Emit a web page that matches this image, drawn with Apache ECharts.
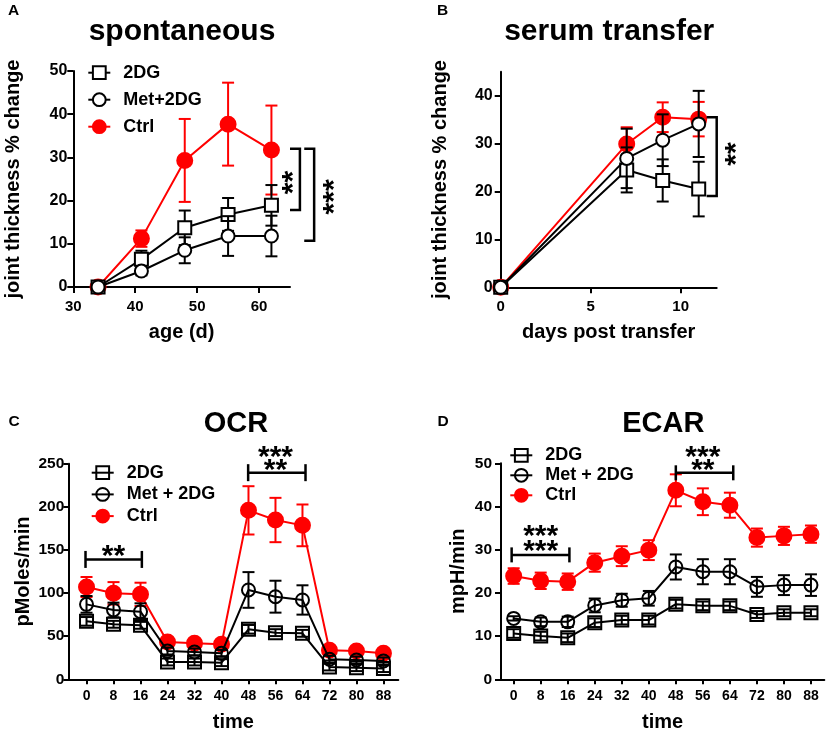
<!DOCTYPE html>
<html><head><meta charset="utf-8">
<script src="https://cdn.jsdelivr.net/npm/echarts@6/dist/echarts.min.js"></script>
<style>
html,body{margin:0;padding:0;background:#fff;width:829px;height:732px;overflow:hidden}
.p{position:absolute}
</style>
</head><body>
<div id="pA" class="p" style="left:0;top:0;width:415px;height:366px"></div>
<div id="pB" class="p" style="left:415px;top:0;width:414px;height:366px"></div>
<div id="pC" class="p" style="left:0;top:366px;width:415px;height:366px"></div>
<div id="pD" class="p" style="left:415px;top:366px;width:414px;height:366px"></div>
<script>
// ---------- Panel A: spontaneous ----------
const A_age = [34, 41, 48, 55, 62];
const A_2DG = [0, 6.4, 13.7, 16.8, 18.9];
const A_2DG_err = [0, 2.0, 4.0, 3.8, 4.7];
const A_Met = [0, 3.7, 8.5, 11.8, 11.8];
const A_Met_err = [0, 1.0, 3.0, 4.6, 4.7];
const A_Ctrl = [0, 11.2, 29.3, 37.7, 31.7];
const A_Ctrl_err = [0, 1.9, 9.6, 9.6, 10.3];
const A_xTicks = [30, 40, 50, 60];
const A_yTicks = [0, 10, 20, 30, 40, 50];
const A_brackets = [{x: 66.6, xt: 65.0, y1: 32.0, y2: 17.8}, {x: 68.9, xt: 67.3, y1: 32.0, y2: 10.7}];
const A_stars = [{x: 64.5, y: 24.2, text: '**'}, {x: 71.1, y: 20.85, text: '***'}];

// ---------- Panel B: serum transfer ----------
const B_days = [0, 7, 9, 11];
const B_2DG = [0, 24.5, 22.3, 20.5];
const B_2DG_err = [0, 4.7, 4.4, 5.7];
const B_Met = [0, 26.9, 30.7, 34.1];
const B_Met_err = [0, 6.2, 5.4, 6.9];
const B_Ctrl = [0, 29.9, 35.5, 35.1];
const B_Ctrl_err = [0, 3.5, 3.1, 3.6];
const B_xTicks = [0, 5, 10];
const B_yTicks = [0, 10, 20, 30, 40];
const B_brackets = [{x: 12.0, xt: 11.44, y1: 35.5, y2: 19.06}];
const B_stars = [{x: 12.74, y: 27.8, text: '**'}];

// ---------- Panel C: OCR ----------
const CD_time = [0, 8, 16, 24, 32, 40, 48, 56, 64, 72, 80, 88];
const C_2DG = [67.2, 63.8, 62.6, 20.1, 20.1, 19.3, 58.0, 54.1, 53.3, 14.3, 13.5, 12.4];
const C_2DG_err = [5, 4, 4, 4, 4, 4, 5, 4, 4, 4, 4, 4];
const C_Met = [86.9, 80.4, 78.4, 32.8, 31.7, 30.1, 103.6, 95.8, 92.0, 23.2, 22.4, 21.3];
const C_Met_err = [9.7, 8.5, 9.7, 4, 4, 4, 20.7, 18.5, 17.0, 4, 4, 4];
const C_Ctrl = [107, 99.7, 98.5, 43.3, 41.7, 40.6, 195.9, 184.7, 178.5, 33.6, 32.8, 30.1];
const C_Ctrl_err = [11.6, 13, 13.5, 3, 3, 3, 28, 25.7, 24.2, 3, 3, 3];
const C_yTicks = [0, 50, 100, 150, 200, 250];
const C_brackets = [{x1: -0.3, x2: 16.4, y: 139}, {x1: 47.9, x2: 64.9, y: 239.6}];
const C_stars = [{x: 8, y: 150.7, text: '**'}, {x: 56, y: 264.7, text: '***'}, {x: 56, y: 250.4, text: '**'}];

// ---------- Panel D: ECAR ----------
const D_2DG = [10.6, 10.0, 9.6, 13.1, 13.7, 13.7, 17.4, 17.0, 17.0, 15.0, 15.4, 15.4];
const D_2DG_err = [1, 1, 1, 1, 1, 1, 1, 1, 1, 0.8, 0.8, 0.8];
const D_Met = [14.1, 13.3, 13.3, 17.1, 18.3, 18.75, 26.0, 24.9, 24.9, 21.4, 21.8, 21.8];
const D_Met_err = [0.5, 1, 1.2, 1.6, 1.5, 1.7, 2.9, 2.9, 2.9, 2.3, 2.3, 2.5];
const D_Ctrl = [23.9, 22.8, 22.6, 27.0, 28.5, 29.9, 43.75, 41.1, 40.3, 32.8, 33.2, 33.6];
const D_Ctrl_err = [1.8, 1.9, 1.9, 2.1, 2.3, 2.3, 3.7, 3.1, 2.9, 2.1, 2.1, 2.0];
const D_yTicks = [0, 10, 20, 30, 40, 50];
const D_brackets = [{x1: -0.6, x2: 16.5, y: 28.8}, {x1: 48, x2: 65, y: 47.8}];
const D_stars = [{x: 8, y: 34.6, text: '***'}, {x: 8, y: 31.1, text: '***'}, {x: 56, y: 52.9, text: '***'}, {x: 56, y: 49.9, text: '**'}];

// ---------- rendering helpers ----------
const FONT = '"Liberation Sans", Arial, Helvetica, sans-serif';
const RED = '#ff0000';
const BLACK = '#000000';
const STAR_FS = 30;

function lineSeries(name, xs, ys, symbol, fill, color, size, z) {
  return {
    type: 'line', name: name, data: xs.map((x, i) => [x, ys[i]]),
    symbol: symbol, symbolSize: size, showSymbol: true, showAllSymbol: true,
    itemStyle: {color: fill, borderColor: color, borderWidth: 2},
    lineStyle: {color: color, width: 2},
    emphasis: {disabled: true}, animation: false, z: z, clip: false, silent: true
  };
}

function errSeries(xs, ys, es, color, z) {
  return {
    type: 'custom', data: xs.map((x, i) => [x, ys[i], es[i]]),
    encode: {x: 0, y: 1}, animation: false, silent: true, z: z, clip: false,
    renderItem: function (p, api) {
      const x = api.value(0), y = api.value(1), e = api.value(2);
      if (!e) return null;
      const t = api.coord([x, y + e]), b = api.coord([x, y - e]);
      const hw = 6;
      const st = {stroke: color, lineWidth: 2};
      return {type: 'group', children: [
        {type: 'line', shape: {x1: t[0], y1: t[1], x2: b[0], y2: b[1]}, style: st},
        {type: 'line', shape: {x1: t[0] - hw, y1: t[1], x2: t[0] + hw, y2: t[1]}, style: st},
        {type: 'line', shape: {x1: b[0] - hw, y1: b[1], x2: b[0] + hw, y2: b[1]}, style: st}
      ]};
    }
  };
}

function vBracketSeries(list) {
  return {
    type: 'custom', data: list.map(b => [b.x, b.y1]), encode: {x: 0, y: 1},
    animation: false, silent: true, z: 10, clip: false,
    renderItem: function (p, api) {
      const b = list[p.dataIndex];
      const p1 = api.coord([b.x, b.y1]), p2 = api.coord([b.x, b.y2]), t = api.coord([b.xt, b.y1]);
      return {type: 'polyline', shape: {points: [[t[0], p1[1]], [p1[0], p1[1]], [p2[0], p2[1]], [t[0], p2[1]]]},
        style: {stroke: BLACK, lineWidth: 2.5, fill: null}};
    }
  };
}

function hBracketSeries(list, half) {
  return {
    type: 'custom', data: list.map(b => [b.x1, b.y]), encode: {x: 0, y: 1},
    animation: false, silent: true, z: 10, clip: false,
    renderItem: function (p, api) {
      const b = list[p.dataIndex];
      const a = api.coord([b.x1, b.y]), c = api.coord([b.x2, b.y]);
      const st = {stroke: BLACK, lineWidth: 2.5};
      return {type: 'group', children: [
        {type: 'line', shape: {x1: a[0], y1: a[1], x2: c[0], y2: c[1]}, style: st},
        {type: 'line', shape: {x1: a[0], y1: a[1] - half, x2: a[0], y2: a[1] + half}, style: st},
        {type: 'line', shape: {x1: c[0], y1: c[1] - half, x2: c[0], y2: c[1] + half}, style: st}
      ]};
    }
  };
}

function starSeries(list, rotated) {
  return {
    type: 'custom', data: list.map(s => [s.x, s.y]), encode: {x: 0, y: 1},
    animation: false, silent: true, z: 11, clip: false,
    renderItem: function (p, api) {
      const s = list[p.dataIndex];
      const c = api.coord([s.x, s.y]);
      const off = 0.23 * STAR_FS;
      return {type: 'text', x: rotated ? c[0] + off : c[0], y: rotated ? c[1] : c[1] + off,
        rotation: rotated ? Math.PI / 2 : 0,
        style: {text: s.text, fontSize: STAR_FS, fontWeight: 'bold', fontFamily: FONT, fill: BLACK,
          align: 'center', verticalAlign: 'middle'}};
    }
  };
}

function axisBase(extra) {
  return Object.assign({
    type: 'value',
    axisLine: {show: true, onZero: false, lineStyle: {color: BLACK, width: 2}},
    splitLine: {show: false},
    nameLocation: 'middle',
    nameMoveOverlap: false,
    nameTextStyle: {color: BLACK, fontWeight: 'bold', fontSize: 20, fontFamily: FONT}
  }, extra);
}

function ticks(vals, len) {
  return {show: true, length: len, inside: false, lineStyle: {color: BLACK, width: 2}, customValues: vals};
}
function labels(vals, size, margin) {
  return {color: BLACK, fontWeight: 'bold', fontSize: size, fontFamily: FONT, margin: margin, customValues: vals};
}

function textG(x, y, text, size) {
  return {type: 'text', x: x, y: y, silent: true,
    style: {text: text, fontSize: size, fontWeight: 'bold', fontFamily: FONT, fill: BLACK, align: 'center', verticalAlign: 'middle'}};
}

function legendCfg(names, pos) {
  return {show: !!pos, data: names, orient: 'vertical', left: pos ? pos[0] : 0, top: pos ? pos[1] : 0,
    padding: 0, itemGap: pos ? pos[2] : 0,
    itemWidth: 22, itemHeight: 16, selectedMode: false,
    textStyle: {color: BLACK, fontWeight: 'bold', fontSize: 18, fontFamily: FONT, padding: [0, 0, 0, 8]}};
}

function build(id, cfg) {
  const chart = echarts.init(document.getElementById(id), null, {renderer: 'canvas'});
  const met = cfg.metName;
  const series = [
    errSeries(cfg.x, cfg.ctrl, cfg.ctrlErr, RED, 2),
    lineSeries('Ctrl', cfg.x, cfg.ctrl, 'circle', RED, RED, 15, 3),
    errSeries(cfg.x, cfg.dg, cfg.dgErr, BLACK, 4),
    lineSeries('2DG', cfg.x, cfg.dg, 'rect', cfg.openFill, BLACK, 13, 5),
    errSeries(cfg.x, cfg.met, cfg.metErr, BLACK, 6),
    lineSeries(met, cfg.x, cfg.met, 'circle', cfg.openFill, BLACK, 13, 7)
  ].concat(cfg.extra);
  chart.setOption({
    animation: false,
    backgroundColor: '#fff',
    grid: Object.assign({outerBoundsMode: 'none', containLabel: false}, cfg.grid),
    xAxis: axisBase(cfg.xAxis),
    yAxis: axisBase(cfg.yAxis),
    legend: legendCfg(['2DG', met, 'Ctrl'], cfg.legend),
    graphic: cfg.graphic,
    series: series
  });
}

build('pA', {
  x: A_age, dg: A_2DG, dgErr: A_2DG_err, met: A_Met, metErr: A_Met_err, ctrl: A_Ctrl, ctrlErr: A_Ctrl_err,
  metName: 'Met+2DG', openFill: '#ffffff',
  grid: {left: 73.3, top: 71, width: 216.7, height: 216},
  xAxis: {min: 30, max: 65, name: 'age (d)', nameGap: 35, axisTick: ticks(A_xTicks, 6), axisLabel: labels(A_xTicks, 15, 12)},
  yAxis: {min: 0, max: 50, name: 'joint thickness % change', nameGap: 50, axisTick: ticks(A_yTicks, 6), axisLabel: labels(A_yTicks, 16, 6)},
  legend: [87.3, 63.7, 9],
  graphic: [textG(13.5, 10.5, 'A', 15.5), textG(182, 32, 'spontaneous', 30)],
  extra: [vBracketSeries(A_brackets), starSeries(A_stars, true)]
});

build('pB', {
  x: B_days, dg: B_2DG, dgErr: B_2DG_err, met: B_Met, metErr: B_Met_err, ctrl: B_Ctrl, ctrlErr: B_Ctrl_err,
  metName: 'Met+2DG', openFill: '#ffffff',
  grid: {left: 85.7, top: 71.7, width: 216, height: 215.6},
  xAxis: {min: 0, max: 12, name: 'days post transfer', nameGap: 35, axisTick: ticks(B_xTicks, 6), axisLabel: labels(B_xTicks, 15, 12)},
  yAxis: {min: 0, max: 45, name: 'joint thickness % change', nameGap: 50, axisTick: ticks(B_yTicks, 6), axisLabel: labels(B_yTicks, 16, 8)},
  legend: null,
  graphic: [textG(27.7, 10.3, 'B', 15.5), textG(194.2, 32, 'serum transfer', 30)],
  extra: [vBracketSeries(B_brackets), starSeries(B_stars, true)]
});

build('pC', {
  x: CD_time, dg: C_2DG, dgErr: C_2DG_err, met: C_Met, metErr: C_Met_err, ctrl: C_Ctrl, ctrlErr: C_Ctrl_err,
  metName: 'Met + 2DG', openFill: 'transparent',
  grid: {left: 68.3, top: 97.7, width: 330, height: 215.6},
  xAxis: {min: -5.4, max: 92.4, name: 'time', nameGap: 33, axisTick: ticks(CD_time, 5), axisLabel: labels(CD_time, 14, 10)},
  yAxis: {min: 0, max: 250, name: 'pMoles/min', nameGap: 35, axisTick: ticks(C_yTicks, 5), axisLabel: labels(C_yTicks, 15.5, 4)},
  legend: [90.7, 97.7, 3.7],
  graphic: [textG(14, 55.5, 'C', 15.5), textG(236, 58, 'OCR', 29)],
  extra: [hBracketSeries(C_brackets, 8.5), starSeries(C_stars, false)]
});

build('pD', {
  x: CD_time, dg: D_2DG, dgErr: D_2DG_err, met: D_Met, metErr: D_Met_err, ctrl: D_Ctrl, ctrlErr: D_Ctrl_err,
  metName: 'Met + 2DG', openFill: 'transparent',
  grid: {left: 86, top: 97.3, width: 323.3, height: 216},
  xAxis: {min: -3.75, max: 91.95, name: 'time', nameGap: 33, axisTick: ticks(CD_time, 5), axisLabel: labels(CD_time, 14, 10)},
  yAxis: {min: 0, max: 50, name: 'mpH/min', nameGap: 33, axisTick: ticks(D_yTicks, 6), axisLabel: labels(D_yTicks, 15.5, 9)},
  legend: [94.3, 80.3, 2],
  graphic: [textG(28, 55.5, 'D', 15.5), textG(248.3, 58, 'ECAR', 29)],
  extra: [hBracketSeries(D_brackets, 7.5), starSeries(D_stars, false)]
});
</script>
</body></html>
